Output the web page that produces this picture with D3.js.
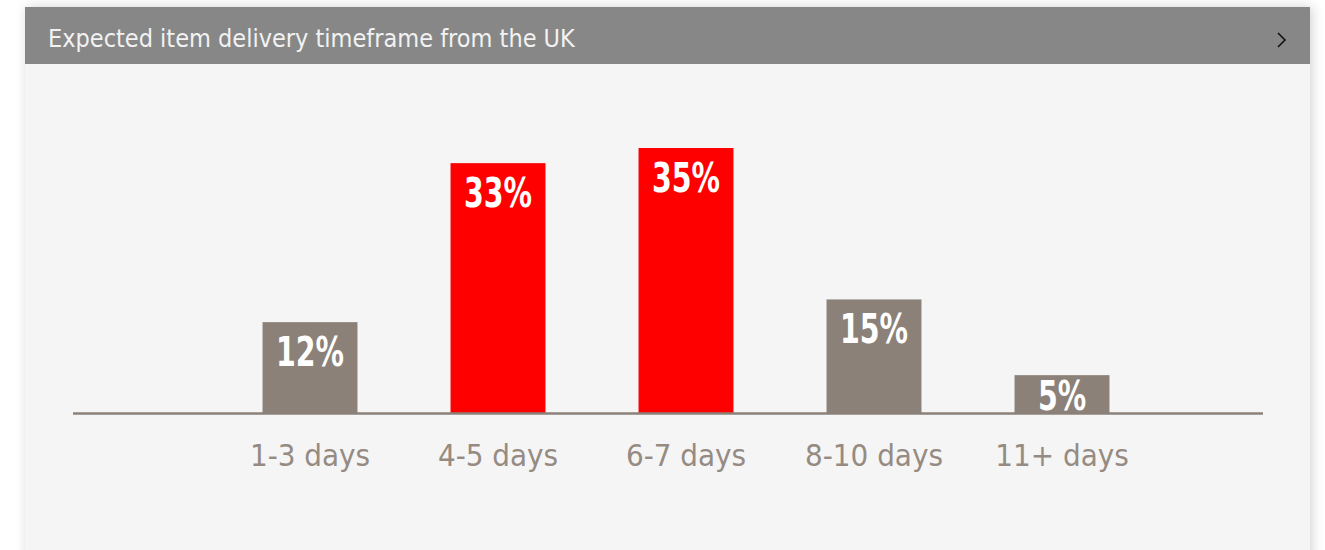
<!DOCTYPE html>
<html>
<head>
<meta charset="utf-8">
<script src="https://cdn.jsdelivr.net/npm/d3@7"></script>
<style>
  html, body { margin: 0; padding: 0; background: #ffffff; }
  svg { display: block; }
</style>
</head>
<body>
<svg id="chart" width="1325" height="550"></svg>
<script>
// Delivery timeframe data
const categories = ["1-3 days", "4-5 days", "6-7 days", "8-10 days", "11+ days"];
const shares = [12, 33, 35, 15, 5];
const highlighted = [false, true, true, false, false];
const title = "Expected item delivery timeframe from the UK";

const W = 1325, H = 550;
const card = { x: 25, y: 7, w: 1285, h: 560, header: 57 };
const baseline = 413;
const grey = "#8b8178";
const red = "#ff0000";
const narrow = "'Liberation Sans Narrow', 'DejaVu Sans Condensed', sans-serif";

const svg = d3.select("#chart");
const defs = svg.append("defs");
const f = defs.append("filter").attr("id", "shadow")
  .attr("x", "-5%").attr("y", "-5%").attr("width", "110%").attr("height", "110%");
f.append("feDropShadow").attr("dx", 2).attr("dy", 0).attr("stdDeviation", 6)
  .attr("flood-color", "#000").attr("flood-opacity", 0.18);

// Card with header bar
svg.append("rect")
  .attr("x", card.x).attr("y", card.y).attr("width", card.w).attr("height", card.h)
  .attr("fill", "#f5f5f5").attr("filter", "url(#shadow)");
svg.append("rect")
  .attr("x", card.x).attr("y", card.y).attr("width", card.w).attr("height", card.header)
  .attr("fill", "#878787");
svg.append("text")
  .attr("x", 48).attr("y", 47)
  .attr("font-family", narrow).attr("font-size", 25)
  .attr("fill", "#f2f2f2")
  .text(title);
svg.append("path")
  .attr("d", "M1278,33 L1285,40 L1278,47")
  .attr("fill", "none").attr("stroke", "#111").attr("stroke-width", 1.6);

// Scales
const x = d3.scaleBand().domain(categories).range([216, 1156]).paddingInner(0.495).paddingOuter(0.2475);
const y = d3.scaleLinear().domain([0, 35]).range([baseline, 148]);

const g = svg.append("g");

g.selectAll("rect.bar")
  .data(categories)
  .join("rect")
  .attr("class", "bar")
  .attr("x", d => x(d))
  .attr("width", x.bandwidth())
  .attr("y", (d, i) => y(shares[i]))
  .attr("height", (d, i) => baseline - y(shares[i]))
  .attr("fill", (d, i) => highlighted[i] ? red : grey);

// Value labels inside bars (narrowed), kept above the baseline for short bars
g.selectAll("text.value")
  .data(categories)
  .join("text")
  .attr("class", "value")
  .attr("transform", (d, i) =>
    `translate(${x(d) + x.bandwidth() / 2},${Math.min(y(shares[i]) + 44, baseline - 3)}) scale(0.79,1)`)
  .attr("text-anchor", "middle")
  .attr("font-family", narrow).attr("font-weight", "bold").attr("font-size", 40)
  .attr("fill", "#ffffff")
  .text((d, i) => shares[i] + "%");

// Axis line
g.append("line")
  .attr("x1", 73).attr("x2", 1263)
  .attr("y1", baseline + 0.5).attr("y2", baseline + 0.5)
  .attr("stroke", grey).attr("stroke-width", 2.5);

// Category labels
const axis = d3.axisBottom(x).tickSize(0).tickPadding(0);
const ax = g.append("g").attr("transform", `translate(0,${baseline})`).call(axis);
ax.select(".domain").remove();
ax.selectAll("text")
  .attr("y", 53).attr("dy", null)
  .attr("font-family", narrow).attr("font-size", 31)
  .attr("fill", "#958b82");
</script>
</body>
</html>
